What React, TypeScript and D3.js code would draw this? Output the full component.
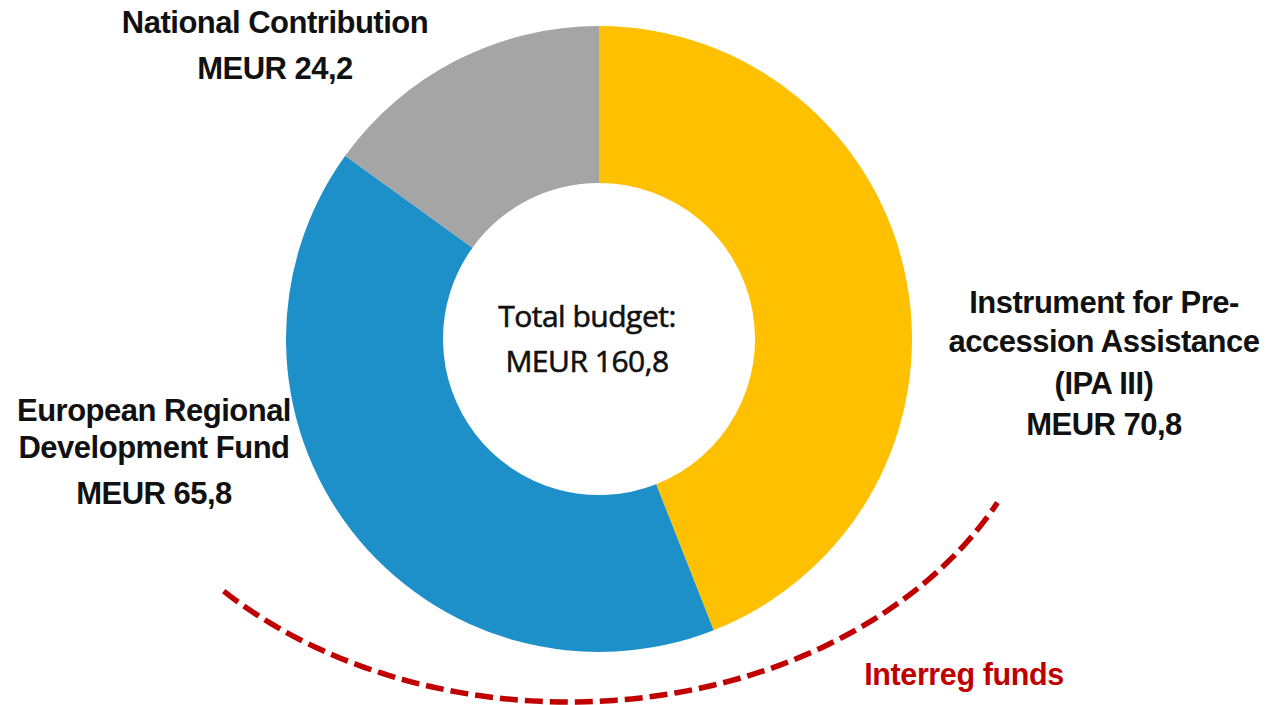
import React from "react";
import * as d3 from "d3";

const categories = [
  "Instrument for Pre-accession Assistance (IPA III)",
  "European Regional Development Fund",
  "National Contribution",
];
const values = [70.8, 65.8, 24.2];
const colors = ["#FFC000", "#1E90C9", "#A5A5A5"];
const labelLines = [
  ["Instrument for Pre-", "accession Assistance", "(IPA III)", "MEUR 70,8"],
  ["European Regional", "Development Fund", "MEUR 65,8"],
  ["National Contribution", "MEUR 24,2"],
];
const totalLines = ["Total budget:", "MEUR 160,8"];
const bracketLabel = "Interreg funds";

const W = 1266;
const H = 705;
const cx = 599;
const cy = 339;
const outerR = 313;
const innerR = 156;

// label anchor (center x) and baselines
const labelPos = [
  { x: 1104, ys: [313, 352, 394, 435] },
  { x: 154, ys: [421, 458, 504] },
  { x: 275, ys: [33, 79] },
];

export default function App() {
  const pie = d3
    .pie<number>()
    .sort(null)
    .startAngle(0)
    .endAngle(2 * Math.PI)
    .value((d) => d);
  const arcs = pie(values);
  const arcGen = d3.arc<d3.PieArcDatum<number>>().innerRadius(innerR).outerRadius(outerR);

  // dashed bracket for Interreg funds (ellipse arc under the IPA + ERDF slices)
  const ex = cx - 30;
  const ey = cy;
  const ea = 480;
  const eb = 363;
  const t0 = (136 * Math.PI) / 180;
  const t1 = (26.8 * Math.PI) / 180;
  const ts = d3.range(0, 101).map((i) => t0 + ((t1 - t0) * i) / 100);
  const line = d3
    .line<number>()
    .x((t) => ex + ea * Math.cos(t))
    .y((t) => ey + eb * Math.sin(t));

  const boldFont = "'Liberation Sans', Arial, sans-serif";

  return (
    <svg
      width={W}
      height={H}
      style={{ position: "absolute", left: 0, top: 0, background: "#fff" }}
    >
      <g transform={`translate(${cx},${cy})`}>
        {arcs.map((a, i) => (
          <path key={categories[i]} d={arcGen(a) || ""} fill={colors[i]} />
        ))}
      </g>
      <path
        d={line(ts) || ""}
        fill="none"
        stroke="#C00000"
        strokeWidth={5.5}
        strokeDasharray="18 7"
      />
      {labelLines.map((lines, i) => (
        <text
          key={"l" + i}
          textAnchor="middle"
          fontFamily={boldFont}
          fontWeight="bold"
          fontSize={31}
          letterSpacing={-0.5}
          fill="#111"
        >
          {lines.map((s, j) => (
            <tspan key={j} x={labelPos[i].x} y={labelPos[i].ys[j]}>
              {s}
            </tspan>
          ))}
        </text>
      ))}
      <text
        textAnchor="middle"
        fontFamily="'Open Sans', sans-serif"
        fontSize={30}
        letterSpacing={-0.5}
        fill="#111"
        stroke="#111"
        strokeWidth={0.6}
      >
        {totalLines.map((s, j) => (
          <tspan key={j} x={587} y={327 + j * 45}>
            {s}
          </tspan>
        ))}
      </text>
      <text
        x={964}
        y={685}
        textAnchor="middle"
        fontFamily={boldFont}
        fontWeight="bold"
        fontSize={30.5}
        letterSpacing={-0.4}
        fill="#C00000"
      >
        {bracketLabel}
      </text>
    </svg>
  );
}
